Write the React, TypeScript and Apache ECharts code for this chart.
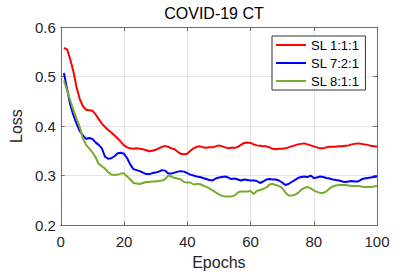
import React, { useEffect, useRef } from "react";
import * as echarts from "echarts";

const title = "COVID-19 CT";
const xName = "Epochs";
const yName = "Loss";
const seriesNames = ["SL 1:1:1", "SL 7:2:1", "SL 8:1:1"];
const seriesColors = ["#ff0000", "#0000ff", "#77ac30"];

const epochs = Array.from({ length: 100 }, (_, i) => i + 1);

const lossRed = [
  0.558, 0.555, 0.535, 0.51, 0.478, 0.455, 0.44, 0.433, 0.432, 0.431,
  0.424, 0.414, 0.405, 0.398, 0.392, 0.387, 0.381, 0.375, 0.368, 0.361,
  0.357, 0.355, 0.354, 0.355, 0.354, 0.353, 0.351, 0.349, 0.35, 0.352,
  0.355, 0.358, 0.36, 0.358, 0.355, 0.353, 0.348, 0.344, 0.343, 0.344,
  0.35, 0.355, 0.358, 0.359, 0.357, 0.356, 0.357, 0.357, 0.359, 0.361,
  0.359, 0.357, 0.355, 0.356, 0.356, 0.358, 0.362, 0.366, 0.367, 0.366,
  0.363, 0.361, 0.36, 0.359, 0.359, 0.357, 0.354, 0.353, 0.354, 0.354,
  0.355, 0.357, 0.359, 0.361, 0.363, 0.364, 0.365, 0.363, 0.361, 0.359,
  0.357, 0.355, 0.355, 0.357, 0.358, 0.358, 0.358, 0.359, 0.359, 0.36,
  0.361, 0.363, 0.364, 0.365, 0.364, 0.363, 0.362, 0.36, 0.359, 0.358,
];

const lossBlue = [
  0.507, 0.475, 0.443, 0.422, 0.405, 0.39, 0.381, 0.374, 0.376, 0.374,
  0.367, 0.362, 0.355, 0.338, 0.334, 0.335, 0.339, 0.345, 0.346, 0.344,
  0.335, 0.322, 0.313, 0.311, 0.309, 0.306, 0.303, 0.303, 0.305, 0.306,
  0.308, 0.311, 0.31, 0.304, 0.304, 0.306, 0.308, 0.309, 0.308, 0.305,
  0.302, 0.3, 0.298, 0.297, 0.295, 0.293, 0.291, 0.29, 0.294, 0.296,
  0.297, 0.298, 0.296, 0.293, 0.294, 0.292, 0.29, 0.292, 0.291, 0.29,
  0.29, 0.289, 0.285, 0.288, 0.292, 0.293, 0.292, 0.292, 0.29, 0.286,
  0.281, 0.283, 0.287, 0.291, 0.295, 0.297, 0.298, 0.297, 0.3, 0.295,
  0.296, 0.298, 0.297, 0.295, 0.294, 0.292, 0.291, 0.29, 0.288, 0.287,
  0.288, 0.289, 0.288, 0.288, 0.292, 0.294, 0.295, 0.296, 0.297, 0.298,
];

const lossGreen = [
  0.492, 0.472, 0.452, 0.432, 0.415, 0.398, 0.375, 0.362, 0.355, 0.347,
  0.337, 0.323, 0.319, 0.314, 0.307, 0.302, 0.301, 0.302, 0.304, 0.304,
  0.298, 0.292, 0.285, 0.284, 0.283, 0.285, 0.287, 0.287, 0.288, 0.288,
  0.289, 0.29, 0.293, 0.3, 0.298, 0.295, 0.294, 0.292, 0.287, 0.286,
  0.286, 0.282, 0.283, 0.283, 0.28, 0.277, 0.274, 0.27, 0.266, 0.262,
  0.259, 0.258, 0.258, 0.258, 0.26, 0.266, 0.268, 0.268, 0.268, 0.269,
  0.263, 0.269, 0.271, 0.273, 0.276, 0.282, 0.283, 0.281, 0.279, 0.275,
  0.266, 0.26, 0.26, 0.261, 0.265, 0.271, 0.275, 0.277, 0.274, 0.27,
  0.267, 0.265, 0.265, 0.268, 0.274, 0.278, 0.28, 0.281, 0.281, 0.281,
  0.28, 0.279, 0.279, 0.279, 0.278, 0.277, 0.277, 0.277, 0.278, 0.279,
];

const seriesValues = [lossRed, lossBlue, lossGreen];

const FONT = "'Liberation Sans', Arial, Helvetica, sans-serif";
const AXIS_COLOR = "#6e6e6e";
const TEXT_COLOR = "#262626";
const GRID_COLOR = "#e3e3e3";

export default function App() {
  const ref = useRef<HTMLDivElement>(null);

  useEffect(() => {
    if (!ref.current) return;
    const chart = echarts.init(ref.current, undefined, { renderer: "svg" });

    const baseX = {
      type: "value",
      min: 0,
      max: 100,
      interval: 20,
      axisLine: { show: true, onZero: false, lineStyle: { color: AXIS_COLOR, width: 1 } },
      axisTick: { show: true, inside: true, length: 4, lineStyle: { color: AXIS_COLOR } },
      splitLine: { show: false },
    };
    const baseY = {
      type: "value",
      min: 0.2,
      max: 0.6,
      interval: 0.1,
      axisLine: { show: true, onZero: false, lineStyle: { color: AXIS_COLOR, width: 1 } },
      axisTick: { show: true, inside: true, length: 4, lineStyle: { color: AXIS_COLOR } },
      splitLine: { show: false },
    };

    chart.setOption({
      animation: false,
      backgroundColor: "#ffffff",
      textStyle: { fontFamily: FONT },
      title: {
        text: title,
        left: 214,
        textAlign: "center",
        top: 5,
        padding: 0,
        textStyle: { fontSize: 16, fontWeight: "normal", color: "#000", fontFamily: FONT },
      },
      grid: { left: 54, right: 38, top: 27, bottom: 48, containLabel: false },
      legend: {
        orient: "vertical",
        left: 272,
        top: 36,
        padding: [2, 6, 2, 4],
        icon: "rect",
        itemWidth: 30,
        itemHeight: 2,
        itemGap: 4,
        backgroundColor: "#ffffff",
        borderColor: "#333333",
        borderWidth: 1,
        textStyle: { fontSize: 13, lineHeight: 14, color: "#000", fontFamily: FONT },
        data: seriesNames,
      },
      xAxis: [
        {
          ...baseX,
          position: "bottom",
          name: xName,
          nameLocation: "middle",
          nameGap: 28,
          nameTextStyle: { fontSize: 16, color: TEXT_COLOR, fontFamily: FONT },
          axisLabel: { fontSize: 15, color: TEXT_COLOR, margin: 9, fontFamily: FONT },
          splitLine: { show: true, lineStyle: { color: GRID_COLOR, width: 1 } },
        },
        { ...baseX, position: "top", axisLabel: { show: false } },
      ],
      yAxis: [
        {
          ...baseY,
          position: "left",
          name: yName,
          nameLocation: "middle",
          nameGap: 32,
          nameTextStyle: { fontSize: 16, color: TEXT_COLOR, fontFamily: FONT },
          axisLabel: {
            fontSize: 15,
            color: TEXT_COLOR,
            margin: 5,
            fontFamily: FONT,
            formatter: (v: number) => v.toFixed(1),
          },
          splitLine: { show: true, lineStyle: { color: GRID_COLOR, width: 1 } },
        },
        { ...baseY, position: "right", axisLabel: { show: false } },
      ],
      series: seriesNames.map((name, si) => ({
        name,
        type: "line",
        xAxisIndex: 0,
        yAxisIndex: 0,
        showSymbol: false,
        symbol: "none",
        lineStyle: { color: seriesColors[si], width: 2 },
        itemStyle: { color: seriesColors[si] },
        data: epochs.map((e, i) => [e, seriesValues[si][i]]),
      })),
    });

    return () => chart.dispose();
  }, []);

  return (
    <div
      ref={ref}
      style={{ position: "absolute", left: 0, top: 0, width: 415, height: 275 }}
    />
  );
}
